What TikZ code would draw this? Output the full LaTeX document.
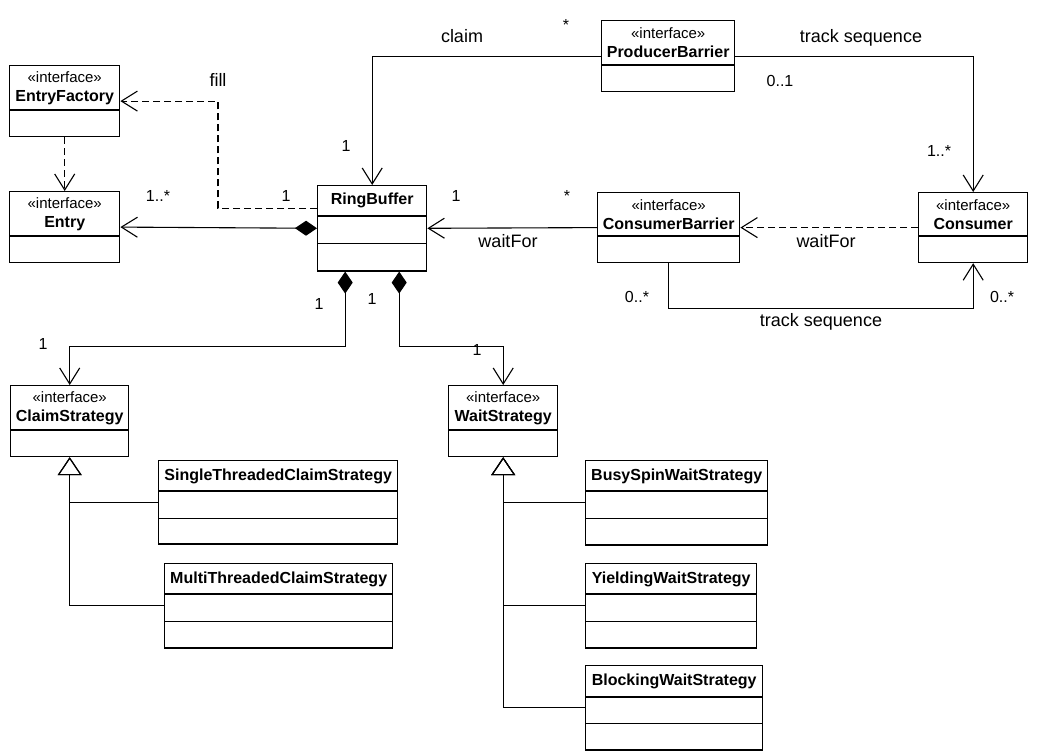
\documentclass[tikz,border=0pt]{standalone}
\usepackage{fontspec}
\setmainfont{Liberation Sans}
\usetikzlibrary{arrows.meta,shapes.multipart}

\newcommand{\stereo}{{\fontsize{15}{17}\selectfont\mdseries «interface»}}
\newcommand{\ttl}[2][29pt]{\parbox[c][#1][c]{\linewidth}{\centering #2}}
\newcommand{\cmp}[1][25pt]{\parbox[c][#1]{\linewidth}{}}

\tikzset{
  cls/.style={draw, line width=1.4pt, rectangle split, rectangle split parts=3,
    rectangle split ignore empty parts=false, inner sep=0pt, anchor=north west,
    font=\fontsize{16}{19}\selectfont\bfseries},
  iface/.style={cls, rectangle split parts=2},
  lbl/.style={font=\fontsize{18}{20}\selectfont, anchor=base, inner sep=0pt},
  mult/.style={font=\fontsize{16}{18}\selectfont, anchor=base, inner sep=0pt},
  assoc/.style={line width=1.1pt, -{Straight Barb[length=16pt,width=20pt]}},
  dep/.style={assoc, dash pattern=on 7pt off 4pt},
  comp/.style={line width=1.1pt, {Diamond[length=22pt,width=15pt]}-{Straight Barb[length=16pt,width=20pt]}},
  gen/.style={line width=1.1pt, -{Triangle[open,length=18pt,width=24pt]}},
}

\begin{document}
\begin{tikzpicture}[x=1pt,y=-1pt]
\useasboundingbox (0,0) rectangle (1037,751);

% classes
\node[iface, text width=110pt] (ef) at (9,65) {\ttl[43pt]{\stereo\\EntryFactory}\nodepart{two}\cmp};
\node[iface, text width=110pt] (en) at (9,191) {\ttl[43pt]{\stereo\\Entry}\nodepart{two}\cmp};
\node[cls, text width=109pt] (rb) at (317,185) {\ttl{RingBuffer}\nodepart{two}\cmp[26pt]\nodepart{three}\cmp[26pt]};
\node[iface, text width=133pt] (pb) at (601,20) {\ttl[43pt]{\stereo\\ProducerBarrier}\nodepart{two}\cmp};
\node[iface, text width=142pt] (cb) at (597,192) {\ttl[42pt]{\stereo\\ConsumerBarrier}\nodepart{two}\cmp};
\node[iface, text width=109pt] (cons) at (918,192) {\ttl[42pt]{\stereo\\Consumer}\nodepart{two}\cmp};
\node[iface, text width=118pt] (cs) at (10,385) {\ttl[43pt]{\stereo\\ClaimStrategy}\nodepart{two}\cmp};
\node[iface, text width=109pt] (ws) at (448,385) {\ttl[43pt]{\stereo\\WaitStrategy}\nodepart{two}\cmp};
\node[cls, text width=239pt] (st) at (158,460) {\ttl{SingleThreadedClaimStrategy}\nodepart{two}\cmp[26pt]\nodepart{three}\cmp[24pt]};
\node[cls, text width=228pt] (mt) at (164,563) {\ttl{MultiThreadedClaimStrategy}\nodepart{two}\cmp[26pt]\nodepart{three}\cmp};
\node[cls, text width=182pt] (bs) at (585,460) {\ttl{BusySpinWaitStrategy}\nodepart{two}\cmp[26pt]\nodepart{three}\cmp};
\node[cls, text width=171pt] (yl) at (585,563) {\ttl{YieldingWaitStrategy}\nodepart{two}\cmp[26pt]\nodepart{three}\cmp};
\node[cls, text width=177pt] (bl) at (585,665) {\ttl[30pt]{BlockingWaitStrategy}\nodepart{two}\cmp\nodepart{three}\cmp};

% associations
\draw[assoc] (pb.west) -| (rb.north);
\draw[assoc] (pb.east) -| (cons.north);
\draw[assoc] (cb.west) -- (rb.east);
\draw[dep] (cons.west) -- (cb.east);
\draw[assoc] (cb.south) -- ++(0,45) -| (cons.south);
\draw[comp] (rb.west) -- (en.east);
\draw[dep] ([yshift=20pt]rb.west) -- ++(-99,0) |- (ef.east);
\draw[dep] (ef.south) -- (en.north);
\draw[comp] ([xshift=-27pt]rb.south) -- ++(0,75) -| (cs.north);
\draw[comp] ([xshift=27pt]rb.south) -- ++(0,75) -| (ws.north);

% inheritance
\draw[gen] (st.west) -| (cs.south);
\draw[gen] (mt.west) -| (cs.south);
\draw[gen] (bs.west) -| (ws.south);
\draw[gen] (yl.west) -| (ws.south);
\draw[gen] (bl.west) -| (ws.south);

% labels
\node[lbl] (lclaim) at (462,43) {claim};
\node[mult] (mclaimpb) at (566,31) {*};
\node[mult] (mclaimrb) at (346,152) {1};
\node[lbl] (ltrack) at (861,43) {track sequence};
\node[mult] (mtrackpb) at (780,87) {0..1};
\node[mult] (mtrackcons) at (939,157) {1..*};
\node[lbl] (lfill) at (218,87) {fill};
\node[mult] (mfill) at (286,202) {1};
\node[mult] (mentry) at (158,202) {1..*};
\node[mult] (mwaitrb) at (456,202) {1};
\node[mult] (mwaitcb) at (567,202) {*};
\node[lbl] (lwait) at (508,248) {waitFor};
\node[lbl] (lwaitcons) at (826,248) {waitFor};
\node[mult] (mtscb) at (637,303) {0..*};
\node[mult] (mtscons) at (1002,303) {0..*};
\node[lbl] (ltrackcb) at (821,327) {track sequence};
\node[mult] (mcs) at (319,310) {1};
\node[mult] (mws) at (372,305) {1};
\node[mult] (mcsend) at (43,350) {1};
\node[mult] (mwsend) at (477,356) {1};
\end{tikzpicture}
\end{document}
